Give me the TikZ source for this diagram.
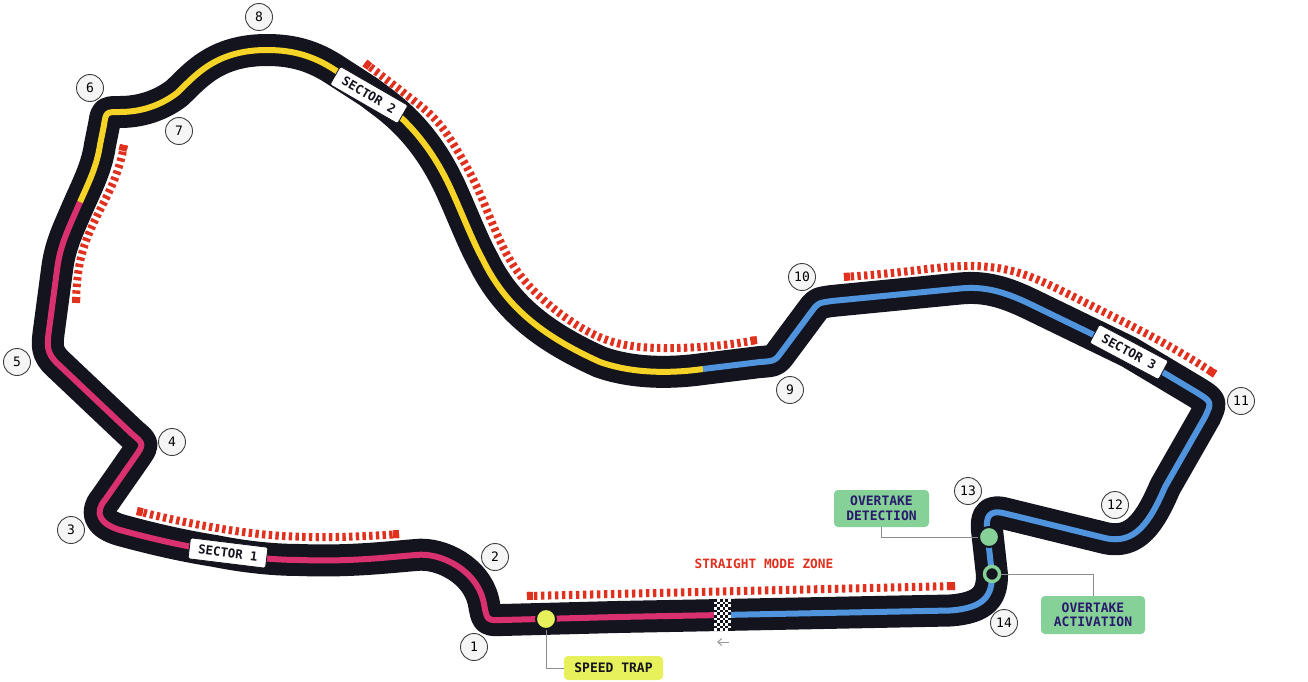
\documentclass[tikz,border=0pt]{standalone}
\usepackage{fontspec}
\newfontfamily\techfont{DejaVu Sans Mono}
\usetikzlibrary{calc,arrows.meta,hobby}
\definecolor{trackc}{HTML}{14141E}
\definecolor{pinkc}{HTML}{D9306F}
\definecolor{yellowc}{HTML}{F5D327}
\definecolor{bluec}{HTML}{4F94DC}
\definecolor{kerbc}{HTML}{E0301E}
\definecolor{greenc}{HTML}{85D197}
\definecolor{limec}{HTML}{E6F15C}
\definecolor{inkc}{HTML}{2A1A6E}
\tikzset{
  x=1pt,y=-1pt,
  trackline/.style={draw=trackc,line width=32pt,line join=round},
  sectorline/.style={line width=6pt,line cap=butt,line join=round},
  kerbline/.style={draw=kerbc,line width=8pt,dash pattern=on 3.4pt off 3.3pt,use Hobby shortcut},
  kerbend/.style={draw=kerbc,line width=8pt},
  turn/.style={circle,draw=black!75,line width=0.9pt,fill=white!96!black,minimum size=27pt,inner sep=0pt,font=\techfont\fontsize{13}{14}\selectfont},
  sectorlabel/.style={rectangle,rounded corners=1.5pt,fill=white,draw=trackc,line width=0.8pt,minimum width=78pt,minimum height=21pt,inner sep=0pt,text=trackc,font=\techfont\bfseries\fontsize{12.4}{13}\selectfont},
  callout/.style={rectangle,rounded corners=4pt,inner sep=0pt,align=center,font=\techfont\bfseries\fontsize{13}{14.5}\selectfont},
  leader/.style={draw=black!45,line width=1pt},
}
\def\segA{-- (617,617) -- (502,620) .. controls (487,620.5) .. (484,604)
  .. controls (478,570) and (440,552) .. (416,555)
  .. controls (390,557) and (350,562) .. (300,560)
  .. controls (270,560) and (240,556) .. (215,551)
  .. controls (190,547) and (160,541) .. (120,530)
  .. controls (100,524) and (94,513) .. (105,500)
  -- (135,457) .. controls (144,444) .. (132,434)
  -- (58,364) .. controls (46,353) and (47,345) .. (49,330)
  -- (57,270) .. controls (60,245) and (68,230) .. (80,202)}
\def\segB{.. controls (90,180) and (97,165) .. (100,145)
  -- (104,125) .. controls (106,112) .. (120,112)
  .. controls (140,112) and (160,106) .. (177,93)
  .. controls (195,76) and (215,50) .. (267,50)
  .. controls (295,50) and (315,57) .. (335,70)
  -- (369,92) -- (385,104)
  .. controls (415,127) and (435,155) .. (450,187)
  .. controls (462,213) and (472,240) .. (483,260)
  .. controls (505,305) and (540,335) .. (600,362)
  .. controls (625,371) and (660,375) .. (703,369)}
\def\segC{-- (760,362) .. controls (775,361) .. (783,350)
  -- (812,311) .. controls (818,303) .. (832,301)
  -- (960,288.5) .. controls (985,286) and (1005,292) .. (1030,304)
  -- (1129,352) -- (1196,392) .. controls (1212,402) .. (1205,417)
  -- (1165,487) .. controls (1150,522) and (1135,545) .. (1105,538)
  -- (1005,513.5) .. controls (988,509) and (986,518) .. (987,530)
  -- (992,575) .. controls (992,595) and (985,608) .. (950,610.5)
  -- (722,615)}
\begin{document}
\begin{tikzpicture}
\useasboundingbox (0,0) rectangle (1308,682);
% track body
\draw[trackline] (722,615) \segA \segB \segC -- cycle;
% sectors
\draw[sectorline,pinkc] (722,615) \segA;
\draw[sectorline,yellowc] (80,202) \segB;
\draw[sectorline,bluec] (703,369) \segC;
% kerbs
\draw[kerbline] (124,145) .. (115,178) .. (100,210) .. (83,250) .. (77,283) .. (76,303);
\draw[kerbend] (124,145) -- ($(124,145)!6pt!(115,178)$);
\draw[kerbend] (76,303) -- ($(76,303)!6pt!(77,283)$);
\draw[kerbline] (365,63) .. (413,100) .. (435,119) .. (457,150) .. (475,183) .. (503,247) .. (520,275) .. (547,303) .. (580,327) .. (613,342) .. (660,348) .. (700,347) .. (757,340);
\draw[kerbend] (365,63) -- ($(365,63)!6pt!(413,100)$);
\draw[kerbend] (757,340) -- ($(757,340)!6pt!(700,347)$);
\draw[kerbline] (844,277) .. (910,271) .. (973,266) .. (1016,272) .. (1060,290) .. (1100,310) .. (1160,341) .. (1215,374);
\draw[kerbend] (844,277) -- ($(844,277)!6pt!(910,271)$);
\draw[kerbend] (1215,374) -- ($(1215,374)!6pt!(1160,341)$);
\draw[kerbline] (137,511) .. (200,525) .. (283,536) .. (333,537) .. (399,534);
\draw[kerbend] (137,511) -- ($(137,511)!6pt!(200,525)$);
\draw[kerbend] (399,534) -- ($(399,534)!6pt!(333,537)$);
\draw[draw=kerbc,line width=8pt,dash pattern=on 3.4pt off 3.6pt] (527,596) -- (955,586);
\draw[kerbend] (527,596) -- (533,595.9);
\draw[kerbend] (955,586) -- (949,586.1);
% start line chequers
\fill[white] (714,599) rectangle (731,631);
\foreach \i in {0,...,5}{\foreach \j in {0,...,11}{
  \pgfmathparse{int(mod(\i+\j,2))}
  \ifnum\pgfmathresult=0 \fill[trackc] (714+\i*2.84,599+\j*2.67) rectangle ++(2.84,2.67);\fi
}}
\coordinate (arrowR) at (729,642);
\coordinate (arrowL) at (717,642);
\draw[draw=black!40,line width=1pt,-{Straight Barb[length=4pt,width=7pt]}] (arrowR) -- (arrowL);
% sector labels
\node[sectorlabel,rotate=-7] (s1) at (228,553) {SECTOR 1};
\node[sectorlabel,rotate=-30] (s2) at (369,95) {SECTOR 2};
\node[sectorlabel,rotate=-28] (s3) at (1129,352) {SECTOR 3};
% turn numbers
\node[turn] (t1) at (474,647) {1};
\node[turn] (t2) at (495,557) {2};
\node[turn] (t3) at (71,530) {3};
\node[turn] (t4) at (172,442) {4};
\node[turn] (t5) at (17,362) {5};
\node[turn] (t6) at (90,88) {6};
\node[turn] (t7) at (179,131) {7};
\node[turn] (t8) at (259,17) {8};
\node[turn] (t9) at (790,390) {9};
\node[turn] (t10) at (802,277) {10};
\node[turn] (t11) at (1241,401) {11};
\node[turn] (t12) at (1115,505) {12};
\node[turn] (t13) at (968,491) {13};
\node[turn] (t14) at (1004,623) {14};
% zone label
\node[text=kerbc,font=\techfont\bfseries\fontsize{12.8}{14}\selectfont,inner sep=0pt] (zone) at (764,564) {STRAIGHT MODE ZONE};
% callouts
\node[callout,fill=limec,text=trackc,minimum width=99pt,minimum height=24pt] (trap) at (613.5,668) {SPEED TRAP};
\node[callout,fill=greenc,text=inkc,minimum width=95pt,minimum height=37pt] (det) at (881.5,508.5) {OVERTAKE\\DETECTION};
\node[callout,fill=greenc,text=inkc,minimum width=104pt,minimum height=38pt] (act) at (1093,615) {OVERTAKE\\ACTIVATION};
% markers
\node[circle,fill=limec,draw=trackc,line width=2pt,minimum size=20pt,inner sep=0pt] (trapdot) at (546,619) {};
\node[circle,fill=greenc,draw=trackc,line width=2pt,minimum size=20pt,inner sep=0pt] (detdot) at (989,537) {};
\node[circle,fill=trackc,draw=greenc,line width=3.4pt,minimum size=15pt,inner sep=0pt] (actdot) at (992,574) {};
% leaders
\draw[leader] (trapdot.south) |- (trap.west);
\draw[leader] (detdot.west) -| (det.south);
\draw[leader] (actdot.east) -| (act.north);
\end{tikzpicture}
\end{document}
